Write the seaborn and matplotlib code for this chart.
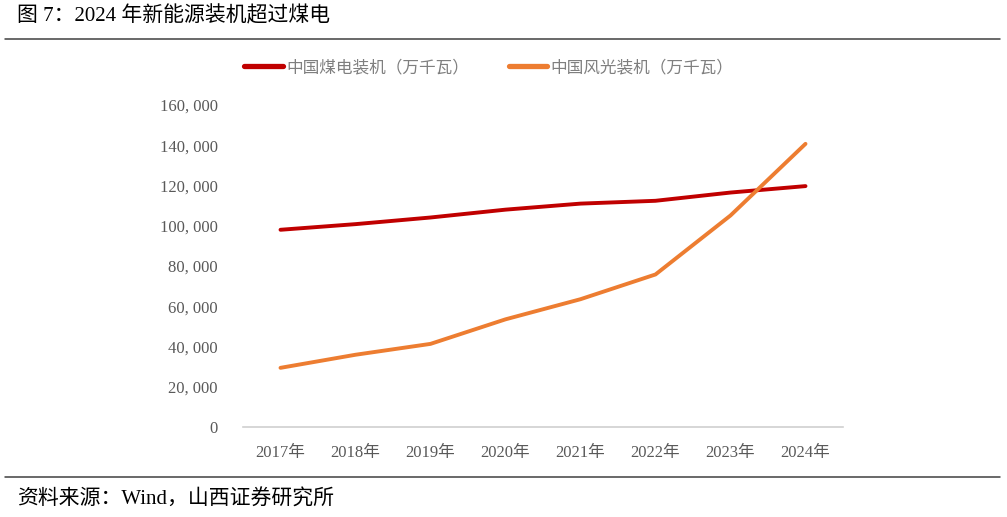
import numpy as np
import pandas as pd
import seaborn as sns
import matplotlib.pyplot as plt
from matplotlib.lines import Line2D

# Data
years = ["2017年", "2018年", "2019年", "2020年", "2021年", "2022年", "2023年", "2024年"]
coal = [98000, 100800, 104100, 108000, 111000, 112400, 116500, 119700]
wind_solar = [29400, 35900, 41300, 53500, 63500, 75800, 105100, 140700]
series_names = ["中国煤电装机（万千瓦）", "中国风光装机（万千瓦）"]
colors = ["#C00000", "#ED7D31"]

df = pd.DataFrame({
    "year": years * 2,
    "value": coal + wind_solar,
    "series": [series_names[0]] * len(years) + [series_names[1]] * len(years),
})

sns.set_theme(style="white")
plt.rcParams['font.family'] = ['Liberation Serif', 'Noto Sans CJK SC']

fig = plt.figure(figsize=(10.07, 5.17), dpi=100)
ax = fig.add_axes([243 / 1007, 1 - 427 / 517, 600 / 1007, 322 / 517])

sns.lineplot(data=df, x="year", y="value", hue="series", palette=colors,
             linewidth=2.8, ax=ax, legend=False, sort=False)
for line in ax.lines:
    line.set_solid_capstyle("round")

ax.set_xlim(-0.5, len(years) - 0.5)
ax.set_ylim(0, 160000)
ax.set_yticks(np.arange(0, 160001, 20000))
ax.set_yticklabels(["0"] + [f"{v:,}".replace(",", ", ") for v in range(20000, 160001, 20000)])
ax.set_xlabel("")
ax.set_ylabel("")
ax.tick_params(axis="both", length=0, labelsize=12, labelcolor="#595959")
ax.tick_params(axis="x", pad=13)
ax.tick_params(axis="y", pad=18)
for s in ["top", "right", "left"]:
    ax.spines[s].set_visible(False)
ax.spines["bottom"].set_color("#D0D0D0")
ax.spines["bottom"].set_linewidth(1.2)

handles = [Line2D([0], [0], color=c, lw=3.8, solid_capstyle="round") for c in colors]
leg = fig.legend(handles, series_names, loc="center", bbox_to_anchor=(489 / 1007, 1 - 68 / 517),
                 ncol=2, frameon=False, fontsize=12, handlelength=2.3, handletextpad=0.2,
                 columnspacing=2.4)
for t in leg.get_texts():
    t.set_color("#7F7F7F")

# Title, source and separators
fig.text(17 / 1007, 1 - 16 / 517, "图 7：2024 年新能源装机超过煤电", fontsize=15,
         color="black", va="center", ha="left")
fig.text(17 / 1007, 1 - 500 / 517, "资料来源：Wind，山西证券研究所", fontsize=15,
         color="black", va="center", ha="left")
fig.add_artist(Line2D([5 / 1007, 1000 / 1007], [1 - 39 / 517, 1 - 39 / 517],
                      color="#404040", lw=1.1, transform=fig.transFigure))
fig.add_artist(Line2D([5 / 1007, 1000 / 1007], [1 - 477 / 517, 1 - 477 / 517],
                      color="#404040", lw=1.1, transform=fig.transFigure))

fig.savefig("out.png", dpi=100)
